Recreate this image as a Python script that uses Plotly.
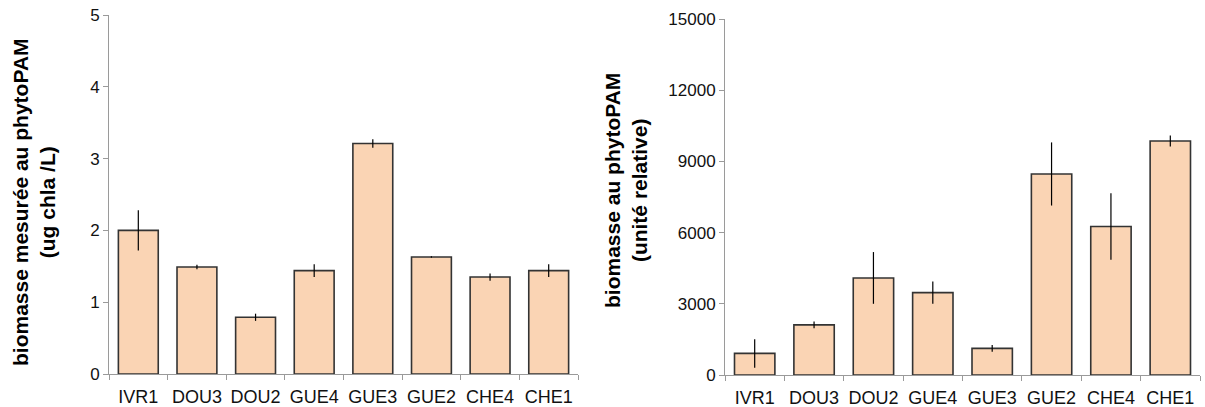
import plotly.graph_objects as go

sites = ["IVR1", "DOU3", "DOU2", "GUE4", "GUE3", "GUE2", "CHE4", "CHE1"]

chla_values = [2.00, 1.49, 0.79, 1.44, 3.21, 1.63, 1.35, 1.44]
chla_errors = [0.28, 0.03, 0.05, 0.09, 0.06, 0.01, 0.05, 0.09]

rel_values = [910, 2110, 4090, 3470, 1120, 8470, 6260, 9860]
rel_errors = [600, 140, 1090, 470, 140, 1330, 1400, 230]

left_ticks = [0, 1, 2, 3, 4, 5]
right_ticks = [0, 3000, 6000, 9000, 12000, 15000]

BAR_FILL = "#FAD4B4"
BAR_LINE = "#333333"
AXIS_COL = "#9a9a9a"
FONT = "Liberation Sans, Arial, sans-serif"

fig = go.Figure()

fig.add_trace(go.Bar(
    x=sites, y=chla_values,
    error_y=dict(type="data", array=chla_errors, visible=True,
                 color="black", thickness=1.2, width=0),
    marker=dict(color=BAR_FILL, line=dict(color=BAR_LINE, width=1.6)),
    xaxis="x", yaxis="y", showlegend=False,
))

fig.add_trace(go.Bar(
    x=sites, y=rel_values,
    error_y=dict(type="data", array=rel_errors, visible=True,
                 color="black", thickness=1.2, width=0),
    marker=dict(color=BAR_FILL, line=dict(color=BAR_LINE, width=1.6)),
    xaxis="x2", yaxis="y2", showlegend=False,
))

W, H = 1205, 407

def xd(a, b):
    return [a / W, b / W]

def yd(bottom_px, top_px):
    return [1 - bottom_px / H, 1 - top_px / H]

common_x = dict(
    type="category", showline=True, linecolor=AXIS_COL, linewidth=1,
    ticks="outside", tickson="boundaries", ticklen=5, tickcolor=AXIS_COL,
    showgrid=False, zeroline=False, automargin=False, tickangle=0,
    ticklabelstandoff=6,
    tickfont=dict(family=FONT, size=18, color="#111"),
)
common_y = dict(
    showline=True, linecolor=AXIS_COL, linewidth=1,
    ticks="outside", ticklen=5, tickcolor=AXIS_COL,
    showgrid=False, zeroline=False, automargin=False,
    tickfont=dict(family=FONT, size=17, color="#111"),
)

fig.update_layout(
    width=W, height=H,
    margin=dict(l=0, r=0, t=0, b=0, autoexpand=False),
    paper_bgcolor="white", plot_bgcolor="white",
    bargap=0.32,
    xaxis=dict(common_x, domain=xd(109, 578), anchor="y"),
    yaxis=dict(common_y, domain=yd(374, 15), range=[0, 5],
               tickvals=left_ticks, anchor="x"),
    xaxis2=dict(common_x, domain=xd(725, 1200), anchor="y2"),
    yaxis2=dict(common_y, domain=yd(375, 19), range=[0, 15000],
                tickvals=right_ticks, tickformat="d", anchor="x2"),
    annotations=[
        dict(text="<b>biomasse mesurée au phytoPAM<br>(ug chla /L)</b>",
             x=34 / W, y=1 - 202 / H, xref="paper", yref="paper",
             xanchor="center", yanchor="middle",
             textangle=-90, showarrow=False,
             font=dict(family=FONT, size=21, color="black")),
        dict(text="<b>biomasse au phytoPAM<br>(unité relative)</b>",
             x=626 / W, y=1 - 191 / H, xref="paper", yref="paper",
             xanchor="center", yanchor="middle",
             textangle=-90, showarrow=False,
             font=dict(family=FONT, size=21, color="black")),
    ],
)

fig.write_html(
    "out.html",
    config={"displayModeBar": False},
    post_script="document.body.style.margin='0';document.body.style.overflow='hidden';",
)
